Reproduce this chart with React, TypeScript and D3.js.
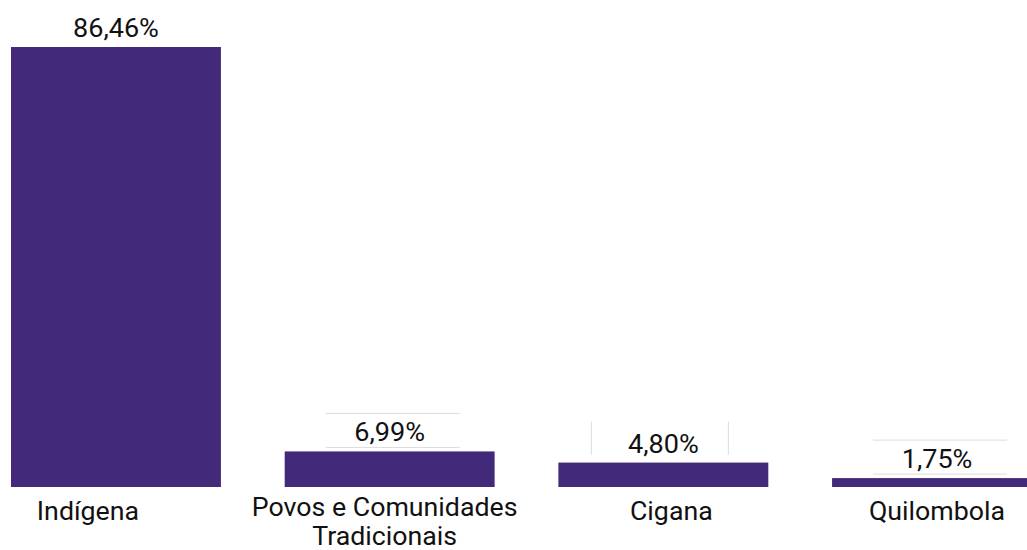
import React from "react";
import * as d3 from "d3";

const categories = ["Indígena", "Povos e Comunidades Tradicionais", "Cigana", "Quilombola"];
const categoryLines = [["Indígena"], ["Povos e Comunidades", "Tradicionais"], ["Cigana"], ["Quilombola"]];
const values = [86.46, 6.99, 4.8, 1.75];
const valueLabels = ["86,46%", "6,99%", "4,80%", "1,75%"];

const W = 1027;
const H = 550;
const BAR = "#43297a";
const FONT = "Roboto, 'Noto Sans', sans-serif";
const catShift = [-28, -5, 8, 0];

export default function App() {
  const x = d3.scaleBand<string>().domain(categories).range([11, 1042]).paddingInner(0.233).paddingOuter(0);
  const baseY = 487;
  const y = d3.scaleLinear().domain([0, 86.46]).range([baseY, 47]);

  return (
    <svg
      width={W}
      height={H}
      viewBox={`0 0 ${W} ${H}`}
      style={{ position: "absolute", left: 0, top: 0, background: "#fff" }}
    >
      {categories.map((c, i) => {
        const x0 = x(c)!;
        const bw = x.bandwidth();
        const cx = x0 + bw / 2;
        const top = y(values[i]);
        const labelY = top - 10;
        const small = i > 0;
        return (
          <g key={c}>
            <rect x={x0} y={top} width={bw} height={baseY - top} fill={BAR} />
            {small && i !== 2 && (
              <g stroke="#dcdcdc" strokeWidth={1}>
                <line x1={cx - 64} x2={cx + 70} y1={labelY - 28} y2={labelY - 28} />
                <line x1={cx - 64} x2={cx + 70} y1={labelY + 6} y2={labelY + 6} />
              </g>
            )}
            {i === 2 && (
              <g stroke="#dcdcdc" strokeWidth={1}>
                <line x1={cx - 72} x2={cx - 72} y1={labelY - 31} y2={labelY + 2} />
                <line x1={cx + 65} x2={cx + 65} y1={labelY - 31} y2={labelY + 2} />
              </g>
            )}
            <text
              transform={`translate(${cx},${labelY}) scale(1.04,1)`}
              textAnchor="middle"
              fontFamily={FONT}
              fontSize={26}
              fill="#111"
            >
              {valueLabels[i]}
            </text>
            {categoryLines[i].map((ln, j) => (
              <text
                key={j}
                transform={`translate(${cx + catShift[i]},${520 + j * 29 - (categoryLines[i].length > 1 ? 4 : 0)}) scale(1.07,1)`}
                textAnchor="middle"
                fontFamily={FONT}
                fontSize={25}
                fill="#111"
              >
                {ln}
              </text>
            ))}
          </g>
        );
      })}
    </svg>
  );
}
